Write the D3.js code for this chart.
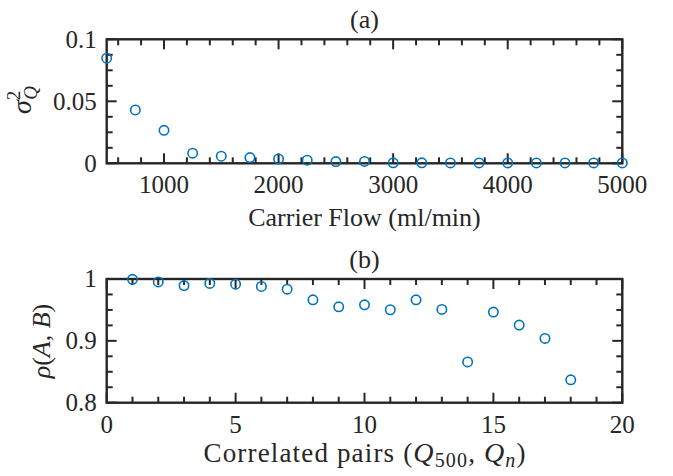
<!DOCTYPE html>
<html>
<head>
<meta charset="utf-8">
<script src="https://cdn.jsdelivr.net/npm/d3@7/dist/d3.min.js"></script>
<style>
  html, body { margin: 0; padding: 0; background: #ffffff; }
  svg { display: block; }
  text { font-family: "Liberation Serif", "DejaVu Serif", serif; fill: #262626; }
</style>
</head>
<body>
<svg id="chart" width="673" height="476"></svg>
<script>
// ---------- data ----------
const flowX = [500, 750, 1000, 1250, 1500, 1750, 2000, 2250, 2500, 2750, 3000, 3250, 3500, 3750, 4000, 4250, 4500, 4750, 5000];
const sigmaQ = [0.0848, 0.0430, 0.0266, 0.0082, 0.0057, 0.0046, 0.0035, 0.0025, 0.0014, 0.0015, 0.0004, 0.0004, 0.0003, 0.0003, 0.0003, 0.0003, 0.0003, 0.0003, 0.0003];
const xTicksA = [1000, 2000, 3000, 4000, 5000];
const xTickLabelsA = ["1000", "2000", "3000", "4000", "5000"];
const yTicksA = [0, 0.05, 0.1];
const yTickLabelsA = ["0", "0.05", "0.1"];

const pairIdx = [1, 2, 3, 4, 5, 6, 7, 8, 9, 10, 11, 12, 13, 14, 15, 16, 17, 18];
const rhoAB = [0.9995, 0.9952, 0.9893, 0.9928, 0.9916, 0.9879, 0.9836, 0.9664, 0.9550, 0.9582, 0.9503, 0.9664, 0.9508, 0.8660, 0.9465, 0.9255, 0.9040, 0.8370];
const xTicksB = [0, 5, 10, 15, 20];
const xTickLabelsB = ["0", "5", "10", "15", "20"];
const yTicksB = [0.8, 0.9, 1];
const yTickLabelsB = ["0.8", "0.9", "1"];

// ---------- styles ----------
const axisColor = "#262626";
const markerColor = "#0072BD";
const tickFont = 25, labelFont = 26;
const majorLen = 10, minorLen = 6;

const svg = d3.select("#chart");

function drawPanel(opt) {
  const { left, right, top, bottom } = opt.box;
  const x = d3.scaleLinear().domain(opt.xDomain).range([left, right]);
  const y = d3.scaleLinear().domain(opt.yDomain).range([bottom, top]);
  const g = svg.append("g");

  const tickG = g.append("g").attr("stroke", axisColor).attr("stroke-width", 2);
  opt.xMinor.forEach(v => {
    tickG.append("line").attr("x1", x(v)).attr("x2", x(v)).attr("y1", bottom).attr("y2", bottom - minorLen);
    tickG.append("line").attr("x1", x(v)).attr("x2", x(v)).attr("y1", top).attr("y2", top + minorLen);
  });
  opt.xMajor.forEach(v => {
    tickG.append("line").attr("x1", x(v)).attr("x2", x(v)).attr("y1", bottom).attr("y2", bottom - majorLen);
    tickG.append("line").attr("x1", x(v)).attr("x2", x(v)).attr("y1", top).attr("y2", top + majorLen);
  });
  opt.yMinor.forEach(v => {
    tickG.append("line").attr("x1", left).attr("x2", left + minorLen).attr("y1", y(v)).attr("y2", y(v));
    tickG.append("line").attr("x1", right).attr("x2", right - minorLen).attr("y1", y(v)).attr("y2", y(v));
  });
  opt.yMajor.forEach(v => {
    tickG.append("line").attr("x1", left).attr("x2", left + majorLen).attr("y1", y(v)).attr("y2", y(v));
    tickG.append("line").attr("x1", right).attr("x2", right - majorLen).attr("y1", y(v)).attr("y2", y(v));
  });

  g.append("rect").attr("x", left).attr("y", top).attr("width", right - left).attr("height", bottom - top)
    .attr("fill", "none").attr("stroke", axisColor).attr("stroke-width", 2.4);

  opt.xMajor.forEach((v, i) => {
    g.append("text").attr("x", x(v)).attr("y", bottom + 30).attr("text-anchor", "middle")
      .attr("font-size", tickFont).text(opt.xLabels[i]);
  });
  opt.yMajor.forEach((v, i) => {
    g.append("text").attr("x", left - 10).attr("y", y(v)).attr("dy", "0.33em").attr("text-anchor", "end")
      .attr("font-size", tickFont).text(opt.yLabels[i]);
  });

  g.append("text").attr("x", (left + right) / 2).attr("y", top - 11).attr("text-anchor", "middle")
    .attr("font-size", labelFont).text(opt.title);

  g.append("g").selectAll("circle").data(opt.xs.map((d, i) => [d, opt.ys[i]])).join("circle")
    .attr("cx", d => x(d[0])).attr("cy", d => y(d[1])).attr("r", 4.7)
    .attr("fill", "none").attr("stroke", markerColor).attr("stroke-width", 1.6);
  return g;
}

// ---------- panel (a) ----------
const gA = drawPanel({
  box: { left: 106.7, right: 622.3, top: 39.3, bottom: 163.3 },
  xDomain: [500, 5000], yDomain: [0, 0.1],
  xMajor: xTicksA, xLabels: xTickLabelsA,
  xMinor: d3.range(600, 5000, 200).filter(v => v % 1000 !== 0),
  yMajor: yTicksA, yLabels: yTickLabelsA,
  yMinor: d3.range(1, 8).map(k => k * 0.0125).filter(v => Math.abs(v - 0.05) > 1e-9),
  title: "(a)", xs: flowX, ys: sigmaQ
});
gA.append("text").attr("x", 364.5).attr("y", 226).attr("text-anchor", "middle")
  .attr("font-size", labelFont).text("Carrier Flow (ml/min)");
const yl = gA.append("text").attr("transform", "translate(31,100) rotate(-90)")
  .attr("text-anchor", "middle").attr("font-size", 28);
yl.append("tspan").attr("font-style", "italic").text("σ");
yl.append("tspan").attr("font-size", 19).attr("dy", -11).text("2");
yl.append("tspan").attr("font-size", 19).attr("font-style", "italic").attr("dx", -9).attr("dy", 17).text("Q");

// ---------- panel (b) ----------
const gB = drawPanel({
  box: { left: 106.7, right: 622.3, top: 279, bottom: 402.7 },
  xDomain: [0, 20], yDomain: [0.8, 1],
  xMajor: xTicksB, xLabels: xTickLabelsB,
  xMinor: d3.range(1, 20).filter(v => v % 5 !== 0),
  yMajor: yTicksB, yLabels: yTickLabelsB,
  yMinor: [0.825, 0.85, 0.875, 0.925, 0.95, 0.975],
  title: "(b)", xs: pairIdx, ys: rhoAB
});
const xlB = gB.append("text").attr("x", 364.5).attr("y", 462).attr("text-anchor", "middle")
  .attr("font-size", 27).attr("textLength", 322).attr("lengthAdjust", "spacing");
xlB.append("tspan").text("Correlated pairs (");
xlB.append("tspan").attr("font-style", "italic").attr("font-size", 28).text("Q");
xlB.append("tspan").attr("font-size", 20).attr("dy", 5).text("500");
xlB.append("tspan").attr("dy", -5).text(", ");
xlB.append("tspan").attr("font-style", "italic").attr("font-size", 28).text("Q");
xlB.append("tspan").attr("font-size", 20).attr("font-style", "italic").attr("dy", 5).text("n");
xlB.append("tspan").attr("dy", -5).text(")");

const ylB = gB.append("text").attr("transform", "translate(50,341) rotate(-90)")
  .attr("text-anchor", "middle").attr("font-size", labelFont);
ylB.append("tspan").attr("font-style", "italic").text("ρ");
ylB.append("tspan").text("(");
ylB.append("tspan").attr("font-style", "italic").text("A");
ylB.append("tspan").text(", ");
ylB.append("tspan").attr("font-style", "italic").text("B");
ylB.append("tspan").text(")");
</script>
</body>
</html>
